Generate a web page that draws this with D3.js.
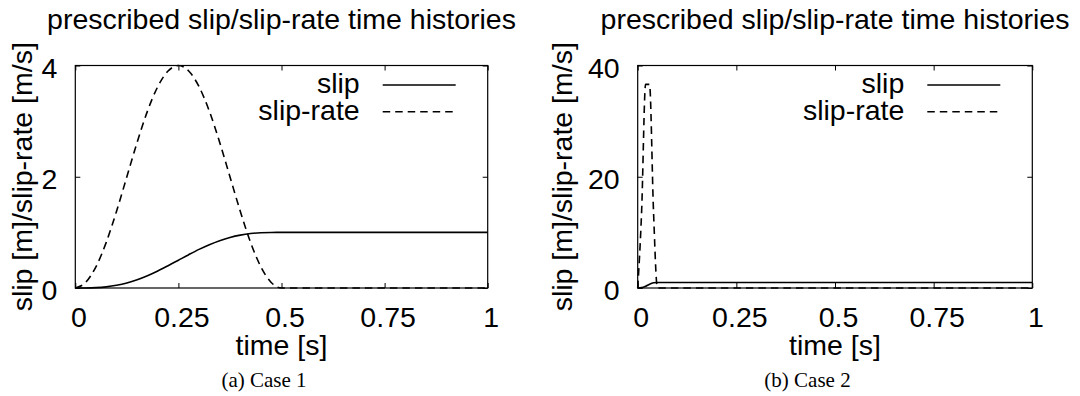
<!DOCTYPE html>
<html>
<head>
<meta charset="utf-8">
<script src="https://cdn.jsdelivr.net/npm/d3@7"></script>
<style>
  body { margin: 0; background: #fff; }
  svg { display: block; }
  .vis-text { font-family: "Liberation Sans", Arial, sans-serif; font-size: 28.5px; fill: #000; }
  .caption { font-family: "Liberation Serif", "Times New Roman", serif; font-size: 21px; fill: #000; }
  .tick line { stroke: #000; stroke-width: 1; }
</style>
</head>
<body>
<div id="chart"></div>
<script>
// Case 1: sin^2 pulse
const case1Time = [0, 0.025, 0.05, 0.075, 0.1, 0.125, 0.15, 0.175, 0.2, 0.225, 0.25,
  0.275, 0.3, 0.325, 0.35, 0.375, 0.4, 0.425, 0.45, 0.475, 0.5, 1];
const case1Slip = [0, 0.001, 0.006, 0.021, 0.049, 0.091, 0.149, 0.221, 0.306, 0.401, 0.5,
  0.599, 0.694, 0.779, 0.851, 0.909, 0.951, 0.979, 0.994, 0.999, 1, 1];
const case1SlipRate = [0, 0.10, 0.38, 0.82, 1.38, 2.00, 2.62, 3.18, 3.62, 3.90, 4.00,
  3.90, 3.62, 3.18, 2.62, 2.00, 1.38, 0.82, 0.38, 0.10, 0, 0];

// Case 2: short spike
const case2Time = [0, 0.01, 0.02, 0.03, 0.04, 0.05, 1];
const case2Slip = [0, 0.07, 0.32, 0.68, 0.93, 1, 1];
const case2SlipRate = [0, 13.9, 36.6, 36.6, 13.9, 0, 0];

const xTicks = [0, 0.25, 0.5, 0.75, 1];
const xTickLabels = ['0', '0.25', '0.5', '0.75', '1'];
const case1YTicks = [0, 2, 4];
const case2YTicks = [0, 20, 40];

const seriesNames = ['slip', 'slip-rate'];
const plotTitle = 'prescribed slip/slip-rate time histories';
const xLabel = 'time [s]';
const yLabel = 'slip [m]/slip-rate [m/s]';
const captions = ['(a) Case 1', '(b) Case 2'];

const svg = d3.select('#chart').append('svg')
  .attr('width', 1080)
  .attr('height', 396);

class SlipVis {
  constructor(config, data) {
    this.config = config;
    this.data = data;
    this.initVis();
  }

  initVis() {
    var vis = this;
    const c = vis.config;

    vis.g = svg.append('g').attr('transform', `translate(${c.offset},0)`);

    vis.x = d3.scaleLinear().domain([0, 1]).range([c.left, c.right]);
    vis.y = d3.scaleLinear().domain(c.yDomain).range([288, 65.5]);

    vis.updateVis();
  }

  updateVis() {
    var vis = this;
    const c = vis.config;
    const g = vis.g;
    const midX = (c.left + c.right) / 2;

    // frame
    g.append('rect')
      .attr('x', c.left)
      .attr('y', vis.y.range()[1])
      .attr('width', c.right - c.left)
      .attr('height', vis.y.range()[0] - vis.y.range()[1])
      .attr('fill', 'none')
      .attr('stroke', '#000')
      .attr('stroke-width', 1.2);

    // axes, inward ticks on all four sides
    const bottom = g.append('g')
      .attr('transform', `translate(0,${vis.y.range()[0]})`)
      .call(d3.axisBottom(vis.x).tickValues(xTicks)
        .tickFormat((d, i) => xTickLabels[i]).tickSize(-5).tickPadding(18.8));
    const top = g.append('g')
      .attr('transform', `translate(0,${vis.y.range()[1]})`)
      .call(d3.axisTop(vis.x).tickValues(xTicks).tickFormat('').tickSize(-5));
    const left = g.append('g')
      .attr('transform', `translate(${c.left},0)`)
      .call(d3.axisLeft(vis.y).tickValues(c.yTicks)
        .tickFormat(d => String(d)).tickSize(-5).tickPadding(18));
    const right = g.append('g')
      .attr('transform', `translate(${c.right},0)`)
      .call(d3.axisRight(vis.y).tickValues(c.yTicks).tickFormat('').tickSize(-5));

    [bottom, top, left, right].forEach(a => {
      a.select('.domain').remove();
      a.attr('font-family', null).attr('font-size', null);
      a.selectAll('text').attr('class', 'vis-text').attr('fill', null);
    });
    bottom.selectAll('text').attr('dx', 3);
    left.selectAll('text').attr('dy', '0.42em');

    // lines
    const line = d3.line()
      .x((d, i) => vis.x(vis.data.time[i]))
      .y(d => vis.y(d))
      .curve(d3.curveMonotoneX);

    g.append('path')
      .datum(vis.data.slipRate)
      .attr('d', line)
      .attr('fill', 'none')
      .attr('stroke', '#000')
      .attr('stroke-width', 1.6)
      .attr('stroke-dasharray', '7.5,5');

    g.append('path')
      .datum(vis.data.slip)
      .attr('d', line)
      .attr('fill', 'none')
      .attr('stroke', '#000')
      .attr('stroke-width', 1.6);

    // legend
    const legend = g.append('g').attr('class', 'legend');
    seriesNames.forEach((name, i) => {
      const ly = 85 + i * 26.7;
      legend.append('text')
        .attr('class', 'vis-text')
        .attr('x', c.right - 128)
        .attr('y', ly + 8.3)
        .attr('text-anchor', 'end')
        .text(name);
      legend.append('line')
        .attr('x1', c.right - 105)
        .attr('x2', c.right - 32)
        .attr('y1', ly)
        .attr('y2', ly)
        .attr('stroke', '#000')
        .attr('stroke-width', 1.6)
        .attr('stroke-dasharray', i === 1 ? '7.5,5' : null);
    });

    // titles
    g.append('text')
      .attr('class', 'vis-text')
      .attr('x', midX)
      .attr('y', 29)
      .attr('text-anchor', 'middle')
      .text(plotTitle);

    g.append('text')
      .attr('class', 'vis-text')
      .attr('x', midX)
      .attr('y', 355)
      .attr('text-anchor', 'middle')
      .text(xLabel);

    g.append('text')
      .attr('class', 'vis-text')
      .attr('text-anchor', 'middle')
      .attr('transform', `translate(32,${(vis.y.range()[0] + vis.y.range()[1]) / 2}) rotate(-90)`)
      .text(yLabel);

    g.append('text')
      .attr('class', 'caption')
      .attr('x', c.captionX)
      .attr('y', 387)
      .attr('text-anchor', 'middle')
      .text(c.caption);
  }
}

new SlipVis(
  { offset: 0, left: 75.3, right: 487.7, yDomain: [0, 4], yTicks: case1YTicks, caption: captions[0], captionX: 264 },
  { time: case1Time, slip: case1Slip, slipRate: case1SlipRate }
);
new SlipVis(
  { offset: 540, left: 97.7, right: 492.3, yDomain: [0, 40], yTicks: case2YTicks, caption: captions[1], captionX: 267.5 },
  { time: case2Time, slip: case2Slip, slipRate: case2SlipRate }
);
</script>
</body>
</html>
